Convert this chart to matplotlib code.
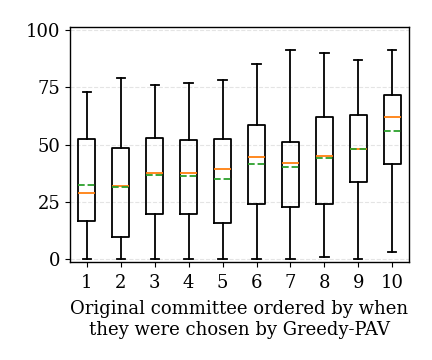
import numpy as np
import matplotlib
matplotlib.use("Agg")
import matplotlib.pyplot as plt

plt.rcParams['font.family'] = 'DejaVu Serif'
plt.rcParams['font.size'] = 13
plt.rcParams['axes.linewidth'] = 1.0

labels = [str(i) for i in range(1, 11)]
whislo = [0, 0, 0, 0, 0, 0, 0, 1, 0, 3]
q1 = [16.5, 9.7, 19.7, 19.7, 15.9, 24.3, 22.6, 24.3, 33.8, 41.7]
med = [28.8, 31.9, 37.4, 37.4, 39.4, 44.5, 41.9, 44.9, 48.0, 61.9]
mean = [32.3, 31.4, 36.7, 36.1, 34.9, 41.6, 40.0, 44.2, 48.0, 55.8]
q3 = [52.2, 48.3, 52.9, 52.0, 52.3, 58.4, 50.9, 62.2, 62.8, 71.4]
whishi = [73, 79, 76, 77, 78, 85, 91, 90, 87, 91]

stats = []
for i in range(10):
    stats.append(dict(label=labels[i], whislo=whislo[i], q1=q1[i], med=med[i],
                      mean=mean[i], q3=q3[i], whishi=whishi[i], fliers=[]))

lw = 1.3
fig, ax = plt.subplots(figsize=(4.32, 3.6), dpi=100)
ax.bxp(stats, showmeans=True, meanline=True,
       boxprops=dict(linewidth=lw),
       whiskerprops=dict(linewidth=lw),
       capprops=dict(linewidth=lw),
       meanprops=dict(color='C2', linestyle='--', linewidth=lw),
       medianprops=dict(color='C1', linewidth=lw))
ax.set_yticks([0, 25, 50, 75, 100])
ax.set_ylim(-1.2, 101.2)
ax.tick_params(axis='x', pad=5)
ax.yaxis.grid(True, linestyle='--', color='lightgray', alpha=0.6)
ax.set_axisbelow(True)
ax.set_xlabel("Original committee ordered by when\nthey were chosen by Greedy-PAV", labelpad=6)
fig.subplots_adjust(left=0.162, right=0.947, top=0.925, bottom=0.272)
fig.savefig("out.png")
